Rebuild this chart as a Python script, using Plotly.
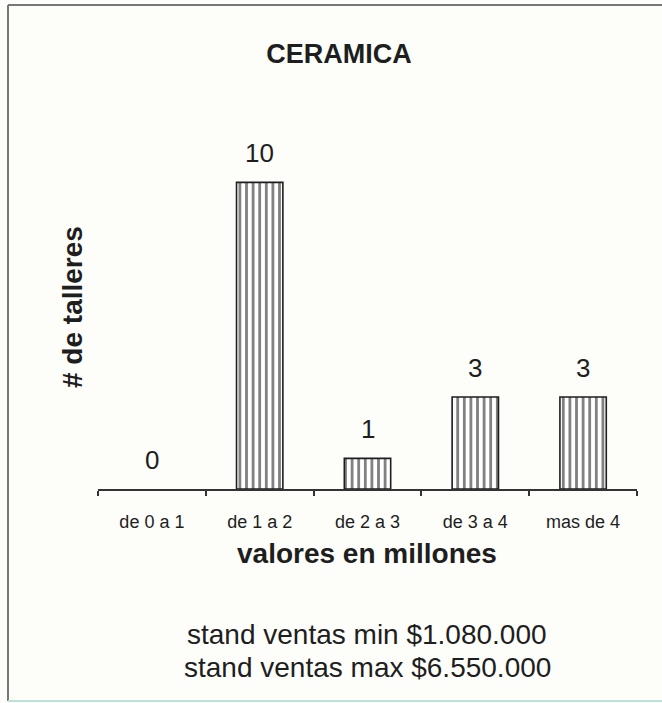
import plotly.graph_objects as go

categories = ["de 0 a 1", "de 1 a 2", "de 2 a 3", "de 3 a 4", "mas de 4"]
values = [0, 10, 1, 3, 3]
title_text = "CERAMICA"
y_title = "# de talleres"
x_title = "valores en millones"
notes = ["stand ventas min $1.080.000", "stand ventas max $6.550.000"]

W, H = 662, 703
FONT = "Liberation Sans, Arial, Helvetica, sans-serif"
INK = "#1e1e1e"

fig = go.Figure()
fig.add_trace(go.Bar(
    x=categories, y=values, width=0.43,
    marker=dict(color="white",
                line=dict(color=INK, width=[0 if v == 0 else 1.6 for v in values]),
                pattern=dict(shape="|", size=6.6, solidity=0.42,
                             fgcolor="#000", bgcolor="white")),
    hoverinfo="skip",
))

for c, v in zip(categories, values):
    fig.add_annotation(x=c, y=v, xref="x", yref="y", text=str(v),
                       showarrow=False, xanchor="center", yanchor="middle", yshift=29,
                       font=dict(family=FONT, size=26, color=INK))

fig.add_annotation(x=72 / W, y=1 - 307 / H, xref="paper", yref="paper",
                   xanchor="center", yanchor="middle",
                   text="<b>" + y_title + "</b>", textangle=-90, showarrow=False,
                   font=dict(family=FONT, size=28, color=INK))
fig.add_annotation(x=367 / W, y=1 - 553 / H, xref="paper", yref="paper",
                   xanchor="center", yanchor="middle",
                   text="<b>" + x_title + "</b>", showarrow=False,
                   font=dict(family=FONT, size=28, color=INK))
for i, n in enumerate(notes):
    fig.add_annotation(x=367 / W, y=1 - (634 + 33 * i) / H, xref="paper", yref="paper",
                       xanchor="center", yanchor="middle",
                       text=n, showarrow=False,
                       font=dict(family=FONT, size=28, color=INK))

# frame
fig.add_shape(type="line", xref="paper", yref="paper",
              x0=8 / W, x1=1.0, y0=1 - 5 / H, y1=1 - 5 / H,
              line=dict(color="#777", width=2), layer="below")
fig.add_shape(type="line", xref="paper", yref="paper",
              x0=8 / W, x1=8 / W, y0=1 - 5 / H, y1=1 - 701 / H,
              line=dict(color="#777", width=2), layer="below")
fig.add_shape(type="line", xref="paper", yref="paper",
              x0=8 / W, x1=1.0, y0=1 - 701 / H, y1=1 - 701 / H,
              line=dict(color="#bde0da", width=2), layer="below")

fig.update_layout(
    width=W, height=H,
    margin=dict(l=0, r=0, t=0, b=0),
    paper_bgcolor="#fdfdf9", plot_bgcolor="rgba(0,0,0,0)",
    showlegend=False,
    title=dict(text="<b>" + title_text + "</b>", x=339 / W, xanchor="center",
               y=1 - 54 / H, yanchor="middle", yref="container",
               font=dict(family=FONT, size=27, color=INK)),
    xaxis=dict(domain=[98 / W, 637 / W], range=[-0.5, 4.5],
               showline=True, linecolor="#333", linewidth=1.5,
               ticks="outside", ticklen=5, tickcolor="#333", tickwidth=1.5,
               tickson="boundaries", showgrid=False, zeroline=False,
               ticklabelstandoff=16,
               tickfont=dict(family=FONT, size=18, color=INK)),
    yaxis=dict(domain=[1 - 489 / H, 1 - 121 / H], range=[0, 12],
               visible=False, showgrid=False, zeroline=False),
)

fig.write_html("out.html", config={"displayModeBar": False},
               post_script="document.body.style.margin='0';document.body.style.padding='0';")
